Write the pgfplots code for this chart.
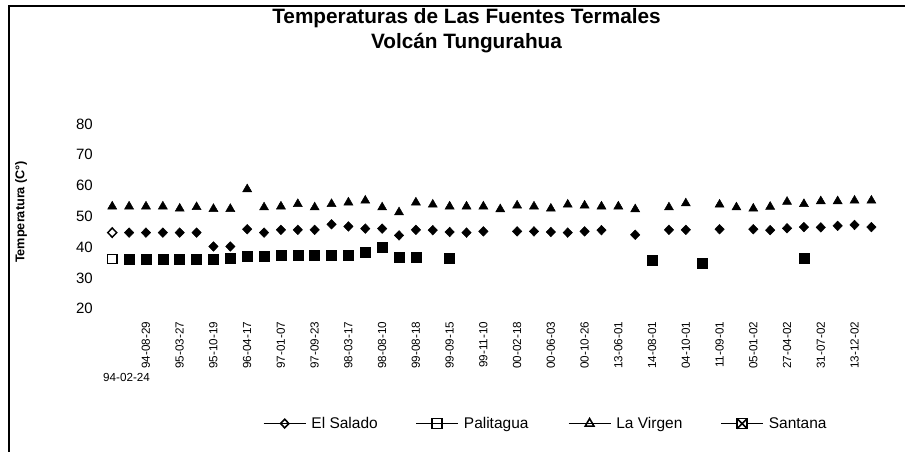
\documentclass[border=0pt]{standalone}
\usepackage{fontspec}
\setmainfont{Liberation Sans}
\usepackage{pgfplots}
\pgfplotsset{compat=1.18}

% square with a cross, for the Santana legend entry
\pgfdeclareplotmark{boxx}{%
  \pgfpathrectangle{\pgfqpoint{-\pgfplotmarksize}{-\pgfplotmarksize}}{\pgfqpoint{2\pgfplotmarksize}{2\pgfplotmarksize}}%
  \pgfusepathqfillstroke
  \pgfpathmoveto{\pgfqpoint{-\pgfplotmarksize}{-\pgfplotmarksize}}%
  \pgfpathlineto{\pgfqpoint{\pgfplotmarksize}{\pgfplotmarksize}}%
  \pgfpathmoveto{\pgfqpoint{-\pgfplotmarksize}{\pgfplotmarksize}}%
  \pgfpathlineto{\pgfqpoint{\pgfplotmarksize}{-\pgfplotmarksize}}%
  \pgfusepathqstroke}

\begin{document}
\begin{tikzpicture}[x=1pt,y=1pt]
\path (0,0) rectangle (906,452);
\draw[line width=1.8pt] (9,0) -- (9,446) -- (906,446);
\begin{axis}[
    at={(103.9pt,143pt)}, anchor=south west,
    scale only axis,
    width=776.8pt, height=185pt,
    xmin=-0.5, xmax=45.5,
    ymin=20, ymax=80,
    clip=false,
    axis line style={draw=none},
    major tick length=0pt,
    ytick={20,30,...,80},
    /pgf/number format/assume math mode=true,
    yticklabel style={font=\fontsize{15}{18}\selectfont, anchor=east, inner sep=0pt},
    yticklabel shift=10.9pt,
    xtick={2,4,...,44},
    xticklabels={94-08-29,95-03-27,95-10-19,96-04-17,97-01-07,97-09-23,98-03-17,98-08-10,99-08-18,99-09-15,99-11-10,00-02-18,00-06-03,00-10-26,13-06-01,14-08-01,04-10-01,11-09-01,05-01-02,27-04-02,31-07-02,13-12-02},
    xticklabel style={font=\fontsize{11.7}{14}\selectfont, rotate=90, anchor=east, inner sep=0pt},
    xticklabel shift=13pt,
    title={Temperaturas de Las Fuentes Termales\\Volcán Tungurahua},
    title style={align=center, font=\bfseries\fontsize{20.8}{25}\selectfont,
        at={(axis description cs:0.4674,1.4697)}, anchor=center, inner sep=0pt},
    ylabel={Temperatura (C°)},
    ylabel style={font=\bfseries\fontsize{12.7}{15}\selectfont,
        at={(axis description cs:-0.1067,0.524)}, anchor=center},
    legend columns=4,
    legend cell align=left,
    legend image code/.code={\draw[mark repeat=2,mark phase=2,#1] plot coordinates {(0pt,0pt) (21pt,0pt) (42pt,0pt)};},
    legend style={at={(axis description cs:0.2048,-0.6216)}, anchor=west,
        draw=none, fill=none, inner sep=0pt,
        nodes={inner sep=0pt, font=\fontsize{15.5}{18}\selectfont},
        /tikz/every odd column/.append style={column sep=5pt},
        /tikz/every even column/.append style={column sep=0pt}},
]

% legend images (open markers, as in the original legend)
\addlegendimage{black, line width=1.6pt, mark=diamond, mark size=4.3pt, mark options={solid, xscale=1.3, fill=white}}
\addlegendimage{black, line width=1.6pt, mark=square, mark size=5pt, mark options={solid, fill=white}}
\addlegendimage{black, line width=1.6pt, mark=triangle, mark size=5pt, mark options={solid, fill=white}}
\addlegendimage{black, line width=1.6pt, mark=boxx, mark size=5pt, mark options={solid, fill=white}}

% La Virgen
\addplot[forget plot, only marks, mark=triangle*, mark size=5.2pt,
    mark options={yshift=-1.56pt, fill=black, draw=black, line width=0.5pt}] coordinates {
(0,53.7) (1,53.7) (2,53.7) (3,53.7) (4,53.0) (5,53.5) (6,52.9) (7,52.9)
(8,59.3) (9,53.4) (10,53.7) (11,54.5) (12,53.4) (13,54.5) (14,55.0) (15,55.6)
(16,53.4) (17,51.8) (18,55.0) (19,54.3) (20,53.7) (21,53.7) (22,53.7) (23,52.8)
(24,54.0) (25,53.7) (26,53.0) (27,54.3) (28,54.0) (29,53.7) (30,53.7) (31,52.8)
(33,53.4) (34,54.7) (36,54.3) (37,53.4) (38,53.0) (39,53.6) (40,55.2) (41,54.5)
(42,55.4) (43,55.4) (44,55.6) (45,55.6)
};

% El Salado
\addplot[forget plot, only marks, mark=diamond, mark size=4.6pt,
    mark options={xscale=1.3, fill=white, draw=black, line width=1.5pt}] coordinates {
(0,44.7)
};
\addplot[forget plot, only marks, mark=diamond*, mark size=4.8pt,
    mark options={xscale=1.3, fill=black, draw=black, line width=0.5pt}] coordinates {
(1,44.7) (2,44.7) (3,44.7) (4,44.7) (5,44.7) (6,40.2) (7,40.2) (8,45.8)
(9,44.7) (10,45.6) (11,45.6) (12,45.6) (13,47.4) (14,46.7) (15,46.0) (16,46.0)
(17,43.8) (18,45.6) (19,45.5) (20,44.9) (21,44.7) (22,45.1) (24,45.1) (25,45.1)
(26,44.9) (27,44.7) (28,45.1) (29,45.5) (31,44.0) (33,45.6) (34,45.6) (36,45.8)
(38,45.8) (39,45.5) (40,46.1) (41,46.5) (42,46.4) (43,46.9) (44,47.2) (45,46.5)
};

% Palitagua
\addplot[forget plot, only marks, mark=square, mark size=4.6pt,
    mark options={fill=white, draw=black, line width=1.5pt}] coordinates {
(0,36.1)
};
\addplot[forget plot, only marks, mark=square*, mark size=5pt,
    mark options={fill=black, draw=black, line width=0.5pt}] coordinates {
(1,35.9) (2,35.9) (3,35.9) (4,35.9) (5,35.9) (6,35.9) (7,36.4) (8,37.0)
(9,37.0) (10,37.3) (11,37.3) (12,37.5) (13,37.3) (14,37.5) (15,38.4) (16,40.0)
(17,36.6) (18,36.7) (20,36.4)
};

% Santana
\addplot[forget plot, only marks, mark=square*, mark size=5pt,
    mark options={fill=black, draw=black, line width=0.5pt}] coordinates {
(32,35.6) (35,34.6) (41,36.4)
};

\node[anchor=west, inner sep=0pt, font=\fontsize{11.7}{14}\selectfont,
    xshift=-9.3pt, yshift=-69pt] at (axis cs:0,20) {94-02-24};

\legend{\makebox[104pt][l]{El Salado}, \makebox[104pt][l]{Palitagua}, \makebox[104pt][l]{La Virgen}, \makebox[104pt][l]{Santana}}
\end{axis}
\end{tikzpicture}
\end{document}
